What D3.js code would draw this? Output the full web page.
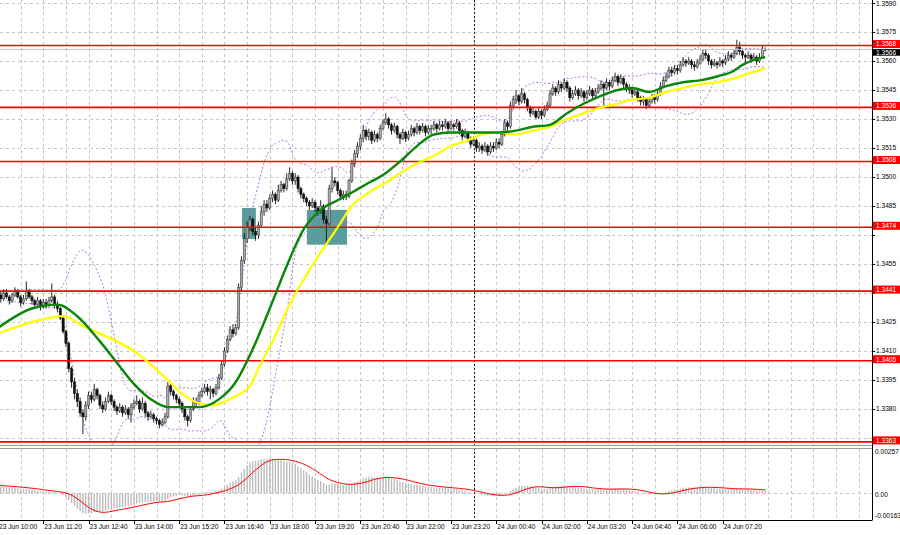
<!DOCTYPE html>
<html><head><meta charset="utf-8">
<script src="https://cdn.jsdelivr.net/npm/d3@7"></script>
<style>
html,body{margin:0;padding:0;background:#fff;}
svg{display:block;font-family:"Liberation Sans",Arial,sans-serif;}
</style></head><body>
<svg id="c" width="900" height="535"></svg>
<script>
// ---------- DATA (M5 bars, 23 Jun 10:00 -> 24 Jun 08:35) ----------
const firstOpen = 1.3438;
const closes = [
1.3439,1.3437,1.3440,1.3438,1.3436,1.3439,1.3441,1.3438,1.3435,1.3437,
1.3441,1.3438,1.3436,1.3434,1.3436,1.3433,1.3435,1.3434,1.3436,1.3438,
1.3434,1.3432,1.3427,1.3420,1.3414,1.3401,1.3394,1.3388,1.3384,1.3378,
1.3376,1.3382,1.3387,1.3385,1.3390,1.3387,1.3382,1.3380,1.3384,1.3387,
1.3384,1.3381,1.3379,1.3381,1.3378,1.3380,1.3377,1.3381,1.3383,1.3384,
1.3380,1.3383,1.3378,1.3376,1.3377,1.3375,1.3374,1.3372,1.3373,1.3376,
1.3392,1.3389,1.3387,1.3385,1.3383,1.3380,1.3376,1.3374,1.3380,1.3384,
1.3383,1.3387,1.3389,1.3391,1.3389,1.3390,1.3388,1.3391,1.3396,1.3403,
1.3410,1.3416,1.3421,1.3419,1.3422,1.3443,1.3457,1.3468,1.3474,1.3478,
1.3472,1.3470,1.3475,1.3482,1.3486,1.3484,1.3489,1.3491,1.3488,1.3493,
1.3496,1.3494,1.3499,1.3502,1.3498,1.3500,1.3494,1.3491,1.3489,1.3487,
1.3485,1.3487,1.3484,1.3482,1.3485,1.3478,1.3476,1.3494,1.3498,1.3497,
1.3493,1.3490,1.3491,1.3490,1.3498,1.3507,1.3512,1.3516,1.3520,1.3524,
1.3521,1.3523,1.3519,1.3522,1.3520,1.3525,1.3528,1.3530,1.3527,1.3524,
1.3526,1.3522,1.3520,1.3523,1.3520,1.3522,1.3525,1.3523,1.3526,1.3524,
1.3526,1.3523,1.3525,1.3525,1.3527,1.3525,1.3527,1.3526,1.3528,1.3525,
1.3527,1.3526,1.3528,1.3524,1.3521,1.3523,1.3520,1.3517,1.3519,1.3515,
1.3516,1.3514,1.3516,1.3513,1.3516,1.3515,1.3518,1.3517,1.3522,1.3528,
1.3526,1.3537,1.3540,1.3542,1.3539,1.3543,1.3540,1.3536,1.3533,1.3534,
1.3531,1.3534,1.3532,1.3535,1.3537,1.3543,1.3546,1.3544,1.3548,1.3546,
1.3549,1.3546,1.3541,1.3543,1.3545,1.3542,1.3544,1.3541,1.3543,1.3545,
1.3542,1.3544,1.3546,1.3548,1.3546,1.3549,1.3547,1.3550,1.3552,1.3549,
1.3551,1.3548,1.3546,1.3545,1.3543,1.3544,1.3541,1.3539,1.3540,1.3537,
1.3539,1.3541,1.3540,1.3543,1.3547,1.3550,1.3552,1.3555,1.3554,1.3556,
1.3555,1.3558,1.3560,1.3559,1.3560,1.3558,1.3557,1.3559,1.3561,1.3564,
1.3563,1.3560,1.3558,1.3559,1.3558,1.3560,1.3559,1.3561,1.3563,1.3562,
1.3564,1.3567,1.3565,1.3563,1.3562,1.3563,1.3561,1.3562,1.3560,1.3562,
1.3566,1.3566];
const highs = [
1.3441,1.3441,1.3442,1.3442,1.3439,1.3440,1.3443,1.3442,1.3439,1.3439,
1.3446,1.3442,1.3439,1.3437,1.3438,1.3437,1.3437,1.3437,1.3438,1.3445,
1.3439,1.3436,1.3433,1.3428,1.3421,1.3415,1.3402,1.3396,1.3390,1.3386,
1.3380,1.3384,1.3389,1.3389,1.3393,1.3391,1.3388,1.3384,1.3386,1.3389,
1.3388,1.3385,1.3382,1.3383,1.3382,1.3382,1.3381,1.3383,1.3385,1.3387,
1.3385,1.3386,1.3384,1.3379,1.3379,1.3378,1.3376,1.3375,1.3375,1.3378,
1.3394,1.3393,1.3390,1.3388,1.3386,1.3384,1.3381,1.3377,1.3381,1.3386,
1.3386,1.3389,1.3391,1.3393,1.3393,1.3392,1.3391,1.3393,1.3398,1.3405,
1.3412,1.3418,1.3423,1.3424,1.3424,1.3445,1.3459,1.3471,1.3477,1.3480,
1.3479,1.3474,1.3477,1.3485,1.3488,1.3488,1.3491,1.3493,1.3492,1.3496,
1.3498,1.3497,1.3502,1.3505,1.3503,1.3502,1.3501,1.3495,1.3492,1.3490,
1.3488,1.3489,1.3488,1.3485,1.3488,1.3486,1.3480,1.3496,1.3505,1.3500,
1.3498,1.3494,1.3493,1.3493,1.3499,1.3509,1.3514,1.3518,1.3522,1.3527,
1.3525,1.3525,1.3524,1.3524,1.3523,1.3527,1.3530,1.3533,1.3531,1.3528,
1.3528,1.3527,1.3523,1.3525,1.3524,1.3524,1.3527,1.3526,1.3528,1.3527,
1.3528,1.3527,1.3527,1.3527,1.3529,1.3528,1.3529,1.3529,1.3530,1.3529,
1.3529,1.3528,1.3530,1.3529,1.3525,1.3525,1.3524,1.3521,1.3521,1.3520,
1.3518,1.3517,1.3518,1.3517,1.3518,1.3518,1.3520,1.3520,1.3524,1.3530,
1.3529,1.3539,1.3542,1.3545,1.3543,1.3546,1.3544,1.3541,1.3537,1.3536,
1.3535,1.3536,1.3535,1.3537,1.3539,1.3545,1.3548,1.3547,1.3550,1.3549,
1.3551,1.3550,1.3547,1.3545,1.3547,1.3546,1.3546,1.3545,1.3545,1.3547,
1.3546,1.3546,1.3548,1.3550,1.3549,1.3551,1.3550,1.3552,1.3554,1.3553,
1.3553,1.3552,1.3549,1.3548,1.3546,1.3546,1.3545,1.3542,1.3542,1.3541,
1.3541,1.3543,1.3543,1.3545,1.3549,1.3552,1.3554,1.3557,1.3557,1.3558,
1.3558,1.3560,1.3562,1.3561,1.3562,1.3561,1.3560,1.3561,1.3563,1.3566,
1.3566,1.3564,1.3561,1.3561,1.3560,1.3562,1.3561,1.3563,1.3565,1.3564,
1.3566,1.3571,1.3570,1.3566,1.3564,1.3565,1.3564,1.3564,1.3563,1.3564,
1.3568,1.3567];
const lows = [
1.3436,1.3435,1.3436,1.3437,1.3434,1.3435,1.3438,1.3437,1.3433,1.3434,
1.3436,1.3437,1.3434,1.3432,1.3433,1.3431,1.3432,1.3432,1.3433,1.3435,
1.3432,1.3430,1.3426,1.3419,1.3412,1.3399,1.3391,1.3385,1.3381,1.3376,
1.3367,1.3374,1.3380,1.3383,1.3384,1.3385,1.3380,1.3378,1.3379,1.3383,
1.3382,1.3379,1.3377,1.3378,1.3376,1.3377,1.3375,1.3373,1.3380,1.3382,
1.3378,1.3379,1.3376,1.3374,1.3375,1.3373,1.3372,1.3370,1.3371,1.3372,
1.3375,1.3387,1.3385,1.3383,1.3381,1.3378,1.3374,1.3371,1.3373,1.3379,
1.3381,1.3382,1.3386,1.3388,1.3387,1.3385,1.3386,1.3387,1.3390,1.3395,
1.3402,1.3409,1.3415,1.3417,1.3418,1.3421,1.3441,1.3455,1.3466,1.3472,
1.3470,1.3467,1.3468,1.3474,1.3480,1.3482,1.3483,1.3487,1.3486,1.3487,
1.3492,1.3492,1.3493,1.3498,1.3496,1.3496,1.3492,1.3489,1.3487,1.3485,
1.3483,1.3484,1.3482,1.3480,1.3481,1.3476,1.3466,1.3475,1.3492,1.3495,
1.3491,1.3488,1.3488,1.3488,1.3489,1.3497,1.3505,1.3510,1.3514,1.3518,
1.3519,1.3519,1.3517,1.3518,1.3518,1.3519,1.3524,1.3527,1.3525,1.3522,
1.3523,1.3520,1.3517,1.3519,1.3518,1.3519,1.3521,1.3521,1.3522,1.3522,
1.3523,1.3521,1.3522,1.3522,1.3524,1.3523,1.3524,1.3524,1.3525,1.3523,
1.3524,1.3524,1.3525,1.3522,1.3519,1.3520,1.3518,1.3515,1.3516,1.3513,
1.3513,1.3512,1.3513,1.3511,1.3512,1.3513,1.3514,1.3515,1.3516,1.3521,
1.3524,1.3525,1.3535,1.3538,1.3537,1.3538,1.3538,1.3534,1.3531,1.3532,
1.3530,1.3530,1.3530,1.3531,1.3534,1.3536,1.3542,1.3542,1.3543,1.3544,
1.3545,1.3544,1.3539,1.3540,1.3542,1.3540,1.3541,1.3539,1.3540,1.3542,
1.3540,1.3541,1.3543,1.3545,1.3536,1.3545,1.3545,1.3546,1.3549,1.3547,
1.3548,1.3546,1.3544,1.3543,1.3541,1.3542,1.3539,1.3537,1.3537,1.3535,
1.3536,1.3538,1.3538,1.3539,1.3542,1.3546,1.3549,1.3551,1.3552,1.3553,
1.3553,1.3554,1.3557,1.3557,1.3558,1.3556,1.3555,1.3556,1.3558,1.3560,
1.3561,1.3558,1.3556,1.3557,1.3556,1.3557,1.3557,1.3558,1.3560,1.3560,
1.3561,1.3563,1.3563,1.3561,1.3558,1.3561,1.3559,1.3560,1.3558,1.3559,
1.3561,1.3565];

// Moving averages: [bar index, price]
const maGreen = [[0,1.3422],[12,1.3432],[21,1.3434],[28,1.3428],[36,1.3415],[42,1.3404],[48,1.3393],[54,1.3385],[60,1.3381],[65,1.3381],[71,1.3381],[78,1.3385],[84,1.3394],[90,1.3411],[96,1.3432],[102,1.3454],[108,1.3473],[114,1.3483],[120,1.3488],[125,1.3492],[131,1.3497],[136,1.3501],[142,1.3508],[148,1.3516],[154,1.3522],[160,1.3523],[166,1.3523],[171,1.3523],[177,1.3523],[183,1.3524],[189,1.3526],[195,1.3527],[201,1.3533],[207,1.3538],[213,1.3542],[219,1.3545],[224,1.3546],[230,1.3544],[236,1.3547],[242,1.3549],[248,1.3550],[254,1.3552],[260,1.3555],[263,1.3558],[266,1.3560],[271,1.3562]];
const maYellow = [[0,1.3419],[12,1.3425],[23,1.3428],[30,1.3423],[36,1.3419],[42,1.3415],[48,1.3410],[54,1.3403],[60,1.3395],[65,1.3388],[71,1.3383],[76,1.3382],[83,1.3386],[89,1.3392],[93,1.3404],[98,1.3418],[103,1.3434],[108,1.3447],[114,1.3461],[120,1.3474],[125,1.3485],[131,1.3492],[137,1.3497],[142,1.3502],[148,1.3507],[154,1.3511],[160,1.3516],[166,1.3519],[171,1.3522],[177,1.3523],[183,1.3522],[189,1.3524],[195,1.3526],[201,1.3530],[207,1.3533],[213,1.3536],[219,1.3538],[224,1.3540],[230,1.3541],[236,1.3544],[242,1.3546],[248,1.3548],[254,1.3549],[260,1.3551],[266,1.3554],[271,1.3556]];

const levels = [1.3568,1.3536,1.3508,1.3474,1.3441,1.3405,1.3363];
const priceTicks = [1.3590,1.3575,1.3560,1.3545,1.3530,1.3515,1.3500,1.3485,1.3470,1.3455,1.3440,1.3425,1.3410,1.3395,1.3380,1.3365];
const timeLabels = ["23 Jun 10:00","23 Jun 11:20","23 Jun 12:40","23 Jun 14:00","23 Jun 15:20","23 Jun 16:40","23 Jun 18:00","23 Jun 19:20","23 Jun 20:40","23 Jun 22:00","23 Jun 23:20","24 Jun 00:40","24 Jun 02:00","24 Jun 03:20","24 Jun 04:40","24 Jun 06:00","24 Jun 07:20"];
const timeLabelBars = [0,16,32,48,64,80,96,112,128,144,160,176,192,208,224,240,256];
const daySeparatorBar = 168;
// zones: [startBar, endBar, topPrice, bottomPrice]
const zones = [[86.2,91.1,1.3484,1.3468],[109.1,123.3,1.3483,1.3465]];
const lastPrice = 1.3566;
const macdTickLabels = ["0.00257","0.00","-0.00163"];
const macdRange = [-0.00163, 0.00257];
const macdSeed = {ema12:1.3435, ema26:1.3430, signal:0.00055};
const bbPeriod = 20, bbDev = 2;

// ---------- CHART ----------
const svg = d3.select("#c");
const AX = 872, MAIN_B = 446, SUB_T = 449, SUB_B = 520;
const x = d3.scaleLinear().domain([0,256]).range([-2,722.7]);
const y = d3.scaleLinear().domain([1.3363,1.3590]).range([441.9,3]);
const ym = d3.scaleLinear().domain(macdRange).range([516.5,456.7]);

const defs = svg.append("defs");
defs.append("clipPath").attr("id","cm").append("rect").attr("x",0).attr("y",0).attr("width",AX).attr("height",MAIN_B);
defs.append("clipPath").attr("id","cs").append("rect").attr("x",0).attr("y",SUB_T).attr("width",AX).attr("height",SUB_B-SUB_T);

svg.append("rect").attr("width",900).attr("height",535).attr("fill","#fff");

const gm = svg.append("g").attr("clip-path","url(#cm)");
const gs = svg.append("g").attr("clip-path","url(#cs)");

// grids
const gridCol = "#c6c6c6";
gm.selectAll("line.hg").data(priceTicks).join("line")
  .attr("x1",0).attr("x2",AX).attr("y1",d=>Math.round(y(d))+0.5).attr("y2",d=>Math.round(y(d))+0.5)
  .attr("stroke",gridCol).attr("stroke-width",1).attr("stroke-dasharray","3,3");
const vgrid = d3.range(8, 320, 8);
gm.selectAll("line.vg").data(vgrid).join("line")
  .attr("x1",d=>Math.round(x(d))+0.5).attr("x2",d=>Math.round(x(d))+0.5).attr("y1",0).attr("y2",MAIN_B)
  .attr("stroke",gridCol).attr("stroke-dasharray","3,3");
gs.selectAll("line.vg").data(vgrid).join("line")
  .attr("x1",d=>Math.round(x(d))+0.5).attr("x2",d=>Math.round(x(d))+0.5).attr("y1",SUB_T).attr("y2",SUB_B)
  .attr("stroke",gridCol).attr("stroke-dasharray","3,3");
gs.append("line").attr("x1",0).attr("x2",AX).attr("y1",Math.round(ym(0))+0.5).attr("y2",Math.round(ym(0))+0.5)
  .attr("stroke",gridCol).attr("stroke-dasharray","3,3");

// zones
gm.selectAll("rect.zone").data(zones).join("rect")
  .attr("x",d=>x(d[0])).attr("width",d=>x(d[1])-x(d[0]))
  .attr("y",d=>y(d[2])).attr("height",d=>y(d[3])-y(d[2]))
  .attr("fill","#5a9c9e");

// day separator
[gm,gs].forEach(g=>g.append("line").attr("x1",Math.round(x(daySeparatorBar))+0.5).attr("x2",Math.round(x(daySeparatorBar))+0.5)
  .attr("y1",0).attr("y2",SUB_B).attr("stroke","#222").attr("stroke-dasharray","2,2"));

// bollinger bands from closes
const bbU = [], bbL = [];
closes.forEach((c,i)=>{
  const w = closes.slice(Math.max(0,i-bbPeriod+1), i+1);
  const m = d3.mean(w);
  const sd = Math.sqrt(d3.mean(w.map(v=>(v-m)*(v-m))));
  bbU.push([i, m+bbDev*sd]); bbL.push([i, m-bbDev*sd]);
});
const lineP = d3.line().x(d=>x(d[0])).y(d=>y(d[1]));
[bbU,bbL].forEach(b=>gm.append("path").attr("d",lineP(b.slice(3))).attr("fill","none")
  .attr("stroke","#b874e6").attr("stroke-width",1).attr("stroke-dasharray","2,2"));

// candles
const bars = closes.map((c,i)=>({i, o: i===0?firstOpen:closes[i-1], c, h: highs[i], l: lows[i]}));
const cg = gm.append("g");
cg.selectAll("line.w").data(bars).join("line")
  .attr("x1",d=>x(d.i)).attr("x2",d=>x(d.i)).attr("y1",d=>y(d.h)).attr("y2",d=>y(d.l))
  .attr("stroke","#111").attr("stroke-width",0.9);
cg.selectAll("rect.b").data(bars).join("rect")
  .attr("x",d=>x(d.i)-1.1).attr("width",2.2)
  .attr("y",d=>y(Math.max(d.o,d.c)))
  .attr("height",d=>Math.max(0.8, Math.abs(y(d.o)-y(d.c))))
  .attr("fill",d=>d.c>=d.o?"#a9a9a9":"#111")
  .attr("stroke",d=>d.c>=d.o?"#333":"#111").attr("stroke-width",0.5);

// levels
gm.selectAll("line.lv").data(levels).join("line")
  .attr("x1",0).attr("x2",AX).attr("y1",d=>y(d)).attr("y2",d=>y(d))
  .attr("stroke","#ff0000").attr("stroke-width",1.6);

// bid line
gm.append("line").attr("x1",0).attr("x2",AX).attr("y1",y(lastPrice)).attr("y2",y(lastPrice))
  .attr("stroke","#c4c4c4").attr("stroke-width",1);

// MAs
const lineC = d3.line().x(d=>x(d[0])).y(d=>y(d[1])).curve(d3.curveMonotoneX);
gm.append("path").attr("d",lineC(maYellow)).attr("fill","none").attr("stroke","#ffff00").attr("stroke-width",2.3);
gm.append("path").attr("d",lineC(maGreen)).attr("fill","none").attr("stroke","#0a860a").attr("stroke-width",2.4);

// MACD from closes
const a12 = 2/13, a26 = 2/27;
let e12 = macdSeed.ema12, e26 = macdSeed.ema26;
const macd = closes.map((c,i)=>{
  if(i>0){ e12 += a12*(c-e12); e26 += a26*(c-e26); }
  return e12-e26;
});
const signal = macd.map((v,i)=>{
  let s=0; for(let k=i-8;k<=i;k++) s += k<0 ? macdSeed.signal : macd[k];
  return s/9;
});
gs.selectAll("rect.h").data(macd).join("rect")
  .attr("x",(d,i)=>x(i)-0.7).attr("width",1.4)
  .attr("y",d=>Math.min(ym(d),ym(0))).attr("height",d=>Math.abs(ym(d)-ym(0)))
  .attr("fill","#bcbcbc");
gs.append("path").attr("d",d3.line().x((d,i)=>x(i)).y(d=>ym(d))(signal))
  .attr("fill","none").attr("stroke","#ff0000").attr("stroke-width",1);

// panel borders
svg.append("line").attr("x1",0).attr("x2",AX).attr("y1",445.5).attr("y2",445.5).attr("stroke","#9a9a9a");
svg.append("line").attr("x1",0).attr("x2",AX).attr("y1",448.5).attr("y2",448.5).attr("stroke","#9a9a9a");
svg.append("line").attr("x1",AX+0.5).attr("x2",AX+0.5).attr("y1",0).attr("y2",SUB_B).attr("stroke","#000");
svg.append("line").attr("x1",0).attr("x2",AX+0.5).attr("y1",SUB_B+0.5).attr("y2",SUB_B+0.5).attr("stroke","#000");

// right axis price labels (labels covered by level boxes are hidden, as in the terminal)
const fs = "6.6px";
const ax = svg.append("g");
priceTicks.forEach(p=>{
  const yy = y(p);
  ax.append("line").attr("x1",AX).attr("x2",AX+3).attr("y1",Math.round(yy)+0.5).attr("y2",Math.round(yy)+0.5).attr("stroke","#000");
  const covered = levels.some(l=>Math.abs(y(l)-yy)<8) || Math.abs(y(lastPrice)-yy)<8;
  if(!covered)
    ax.append("text").attr("x",AX+4).attr("y",Math.max(yy,4)).attr("dy","0.35em").attr("font-size",fs).attr("fill","#000").text(p.toFixed(4));
});
levels.forEach(p=>{
  const yy = y(p) - 1.5;
  ax.append("rect").attr("x",AX+1).attr("y",yy-4).attr("width",900-AX-1).attr("height",8).attr("fill","#ff0000");
  ax.append("text").attr("x",AX+4).attr("y",yy).attr("dy","0.35em").attr("font-size",fs).attr("fill","#fff").text(p.toFixed(4));
});
{
  const yy = y(lastPrice)+3;
  ax.append("rect").attr("x",AX+1).attr("y",yy-3.3).attr("width",900-AX-1).attr("height",6.6).attr("fill","#000");
  ax.append("text").attr("x",AX+4).attr("y",yy).attr("dy","0.35em").attr("font-size",fs).attr("fill","#fff").text(lastPrice.toFixed(4));
}
// MACD axis labels
const macdLabelY = [452, 495, 516];
macdTickLabels.forEach((t,k)=>{
  ax.append("text").attr("x",AX+3).attr("y",macdLabelY[k]).attr("dy","0.35em").attr("font-size",fs).attr("fill","#000").text(t);
});

// time axis
timeLabels.forEach((t,k)=>{
  const xx = x(timeLabelBars[k]);
  ax.append("line").attr("x1",Math.round(xx)+0.5).attr("x2",Math.round(xx)+0.5).attr("y1",SUB_B).attr("y2",SUB_B+4).attr("stroke","#000");
  ax.append("text").attr("x",xx+1).attr("y",527).attr("dy","0.35em").attr("font-size",fs).attr("fill","#000").text(t);
});
</script>
</body></html>
